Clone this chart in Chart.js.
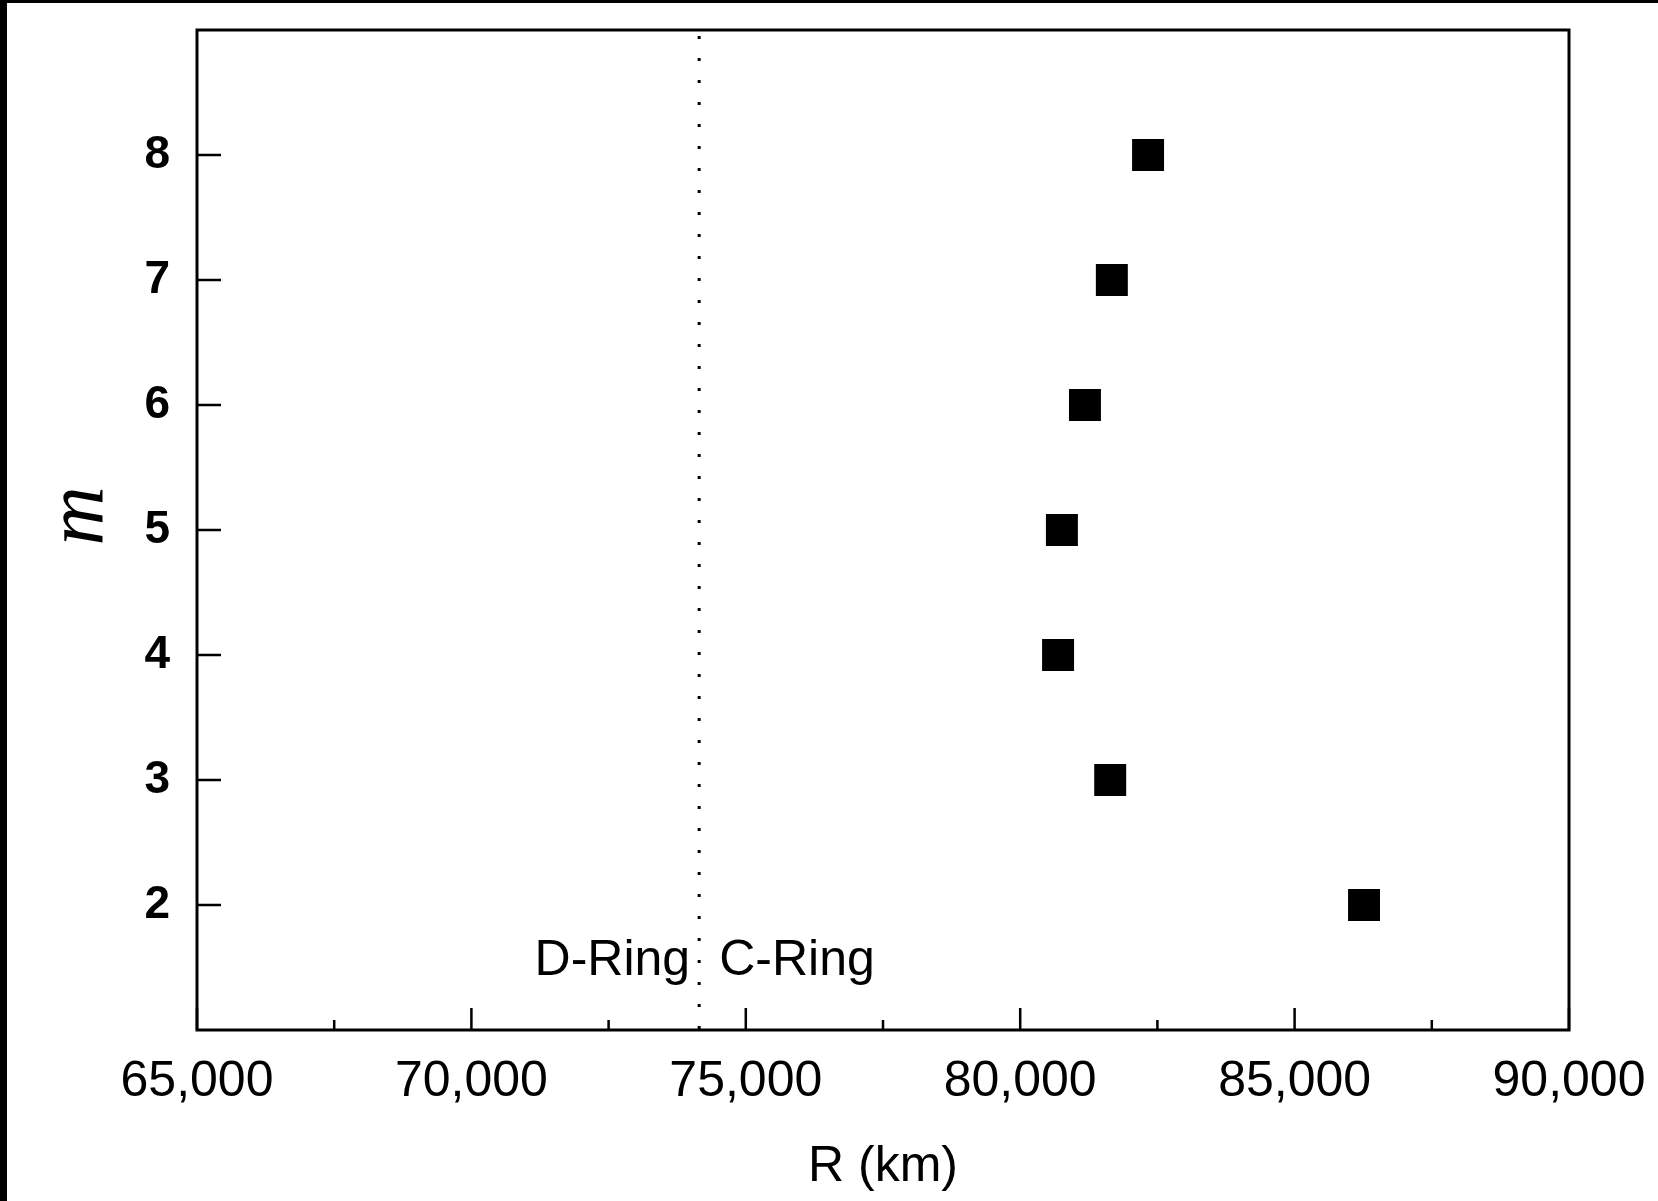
<!DOCTYPE html>
<html>
<head>
<meta charset="utf-8">
<script src="https://cdn.jsdelivr.net/npm/chart.js@4"></script>
<style>
  html, body { margin: 0; padding: 0; background: #fff; overflow: hidden; }
  #wrap { position: relative; width: 1658px; height: 1201px; overflow: hidden; }
  #chart { display: block; }
  .edge { position: absolute; background: #000; }
</style>
</head>
<body>
<div id="wrap">
  <canvas id="chart" width="1658" height="1201"></canvas>
  <div class="edge" style="left:0;top:0;width:7px;height:1201px"></div>
  <div class="edge" style="left:0;top:0;width:1658px;height:3px"></div>
</div>
<script>
// azimuthal wavenumber m and resonance radius R (km)
var mValues = [2, 3, 4, 5, 6, 7, 8];
var rValues = [86265, 81640, 80690, 80760, 81180, 81670, 82330];

var xTicks = [65000, 70000, 75000, 80000, 85000, 90000];
var xMinorTicks = [67500, 72500, 77500, 82500, 87500];
var yTicks = [2, 3, 4, 5, 6, 7, 8];

// D-ring / C-ring boundary
var ringBoundary = 74150;
var ringNames = ['D-Ring', 'C-Ring'];
var yTitle = 'm';

var sans = "'Liberation Sans', Arial, Helvetica, sans-serif";

var framePlugin = {
    id: 'frame',
    beforeDatasetsDraw: function (chart) {
        var ctx = chart.ctx;
        var area = chart.chartArea;
        var x = chart.scales.x.getPixelForValue(ringBoundary);
        ctx.save();
        ctx.strokeStyle = '#000';
        ctx.lineWidth = 3;
        ctx.setLineDash([3, 19]);
        ctx.beginPath();
        ctx.moveTo(x, area.top + 6);
        ctx.lineTo(x, area.bottom);
        ctx.stroke();
        ctx.setLineDash([]);

        // ring labels
        var y = chart.scales.y.getPixelForValue(1.44);
        ctx.fillStyle = '#000';
        ctx.font = '50px ' + sans;
        ctx.textBaseline = 'alphabetic';
        ctx.textAlign = 'right';
        ctx.fillText(ringNames[0], x - 9, y);
        ctx.textAlign = 'left';
        ctx.fillText(ringNames[1], x + 20, y);

        // italic m, rotated like a y-axis title
        ctx.translate(80, (area.top + area.bottom) / 2 - 14);
        ctx.rotate(-Math.PI / 2);
        ctx.font = "italic 82px 'Liberation Serif', 'Times New Roman', serif";
        ctx.textAlign = 'center';
        ctx.textBaseline = 'middle';
        ctx.fillText(yTitle, 0, 0);
        ctx.restore();
    },
    afterDraw: function (chart) {
        var ctx = chart.ctx;
        var area = chart.chartArea;
        var xs = chart.scales.x;
        var ys = chart.scales.y;
        ctx.save();
        ctx.strokeStyle = '#000';
        ctx.lineWidth = 3;
        ctx.strokeRect(area.left, area.top, area.right - area.left, area.bottom - area.top);

        ctx.beginPath();
        // inward ticks on R axis
        xTicks.forEach(function (v) {
            var px = xs.getPixelForValue(v);
            ctx.moveTo(px, area.bottom);
            ctx.lineTo(px, area.bottom - 22);
        });
        xMinorTicks.forEach(function (v) {
            var px = xs.getPixelForValue(v);
            ctx.moveTo(px, area.bottom);
            ctx.lineTo(px, area.bottom - 10);
        });
        // inward ticks on m axis
        yTicks.forEach(function (v) {
            var py = ys.getPixelForValue(v);
            ctx.moveTo(area.left, py);
            ctx.lineTo(area.left + 24, py);
        });
        ctx.lineWidth = 2.5;
        ctx.stroke();
        ctx.restore();
    }
};

var ctx = document.getElementById('chart').getContext('2d');
var chart = new Chart(ctx, {
    type: 'scatter',
    data: {
        datasets: [{
            data: mValues.map(function (m, i) { return { x: rValues[i], y: m }; }),
            pointStyle: 'rect',
            pointRadius: 22.6,
            pointHoverRadius: 22.6,
            backgroundColor: '#000',
            borderColor: '#000',
            borderWidth: 0
        }]
    },
    options: {
        responsive: false,
        animation: false,
        devicePixelRatio: 1,
        layout: { padding: { left: 0, right: 89, top: 30, bottom: 0 } },
        plugins: {
            legend: { display: false },
            tooltip: { enabled: false }
        },
        scales: {
            x: {
                type: 'linear',
                position: 'bottom',
                min: 65000,
                max: 90000,
                afterBuildTicks: function (s) {
                    s.ticks = xTicks.map(function (v) { return { value: v }; });
                },
                afterFit: function (s) {
                    s.height = 171;
                    s.paddingLeft = 0; s.paddingRight = 0;
                },
                ticks: {
                    autoSkip: false,
                    maxRotation: 0,
                    padding: 22,
                    color: '#000',
                    font: { family: sans, size: 50 },
                    callback: function (v) { return v.toLocaleString('en-US'); }
                },
                grid: { display: false, drawTicks: false },
                border: { display: false },
                title: {
                    display: true,
                    text: 'R (km)',
                    color: '#000',
                    font: { family: sans, size: 50 },
                    padding: { top: 0, bottom: 4 }
                }
            },
            y: {
                type: 'linear',
                min: 1,
                max: 9,
                afterBuildTicks: function (s) {
                    s.ticks = yTicks.map(function (v) { return { value: v }; });
                },
                afterFit: function (s) {
                    s.width = 197;
                    s.paddingTop = 0; s.paddingBottom = 0;
                },
                ticks: {
                    autoSkip: false,
                    padding: 27,
                    color: '#000',
                    font: { family: sans, size: 46, weight: 'bold' }
                },
                grid: { display: false, drawTicks: false },
                border: { display: false },
                title: { display: false }
            }
        }
    },
    plugins: [framePlugin]
});
</script>
</body>
</html>
